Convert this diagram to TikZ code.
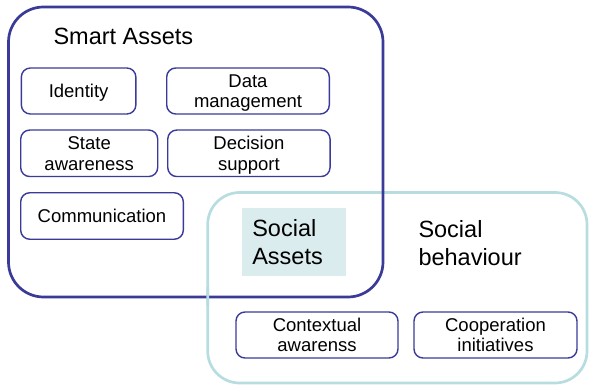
\documentclass[tikz,border=0pt]{standalone}
\usepackage{fontspec}
\setmainfont{Liberation Sans}
\definecolor{sablue}{RGB}{58,58,152}
\definecolor{sbteal}{RGB}{183,221,224}
\definecolor{safill}{RGB}{218,236,238}
\tikzset{
  smallbox/.style={draw=sablue, line width=1.4pt, rounded corners=9pt, inner sep=0pt,
    align=center, text depth=0pt, font=\fontsize{18.5}{20.5}\selectfont},
  bigtext/.style={inner sep=0pt, align=left, font=\fontsize{23.5}{28.5}\selectfont},
}
\begin{document}
\begin{tikzpicture}[x=1pt,y=-1pt]
\useasboundingbox (0,0) rectangle (589,387);
% Social behaviour frame
\draw[sbteal, line width=2.7pt, rounded corners=32pt] (207.7,192.5) rectangle (587,383);
% Social Assets highlight
\node[fill=safill, minimum width=103.4pt, minimum height=67.7pt, inner xsep=10pt, inner ysep=0pt,
  text width=83.4pt, align=left, font=\fontsize{23.5}{28.5}\selectfont] (socassets) at (294,242.2) {Social\\Assets};
% Smart Assets frame
\draw[sablue, line width=2.7pt, rounded corners=35pt] (8.5,7) rectangle (383,297);
% teal over blue at lower-left crossing
\begin{scope}
\clip (200,288) rectangle (216,306);
\draw[sbteal, line width=2.7pt, rounded corners=32pt] (207.7,192.5) rectangle (587,383);
\end{scope}
\node[bigtext, anchor=base west] (smart) at (53.3,45) {Smart Assets};
\node[bigtext, anchor=west] (socbeh) at (418.3,243) {Social\\behaviour};
% Smart asset capabilities
\node[smallbox, minimum width=114.5pt, minimum height=46pt] (identity) at (78.6,91) {Identity};
\node[smallbox, minimum width=162.6pt, minimum height=46pt] (datamgmt) at (248,91) {Data\\management};
\node[smallbox, minimum width=137pt, minimum height=46.5pt] (state) at (89.2,153.3) {State\\awareness};
\node[smallbox, minimum width=162.3pt, minimum height=46.5pt] (decision) at (248.9,153.3) {Decision\\support};
\node[smallbox, minimum width=162.6pt, minimum height=46.5pt] (comm) at (102,216) {Communication};
% Social behaviour capabilities
\node[smallbox, minimum width=162pt, minimum height=46pt] (context) at (317,335) {Contextual\\awarenss};
\node[smallbox, minimum width=163pt, minimum height=46pt] (coop) at (495.5,335) {Cooperation\\initiatives};
\end{tikzpicture}
\end{document}
